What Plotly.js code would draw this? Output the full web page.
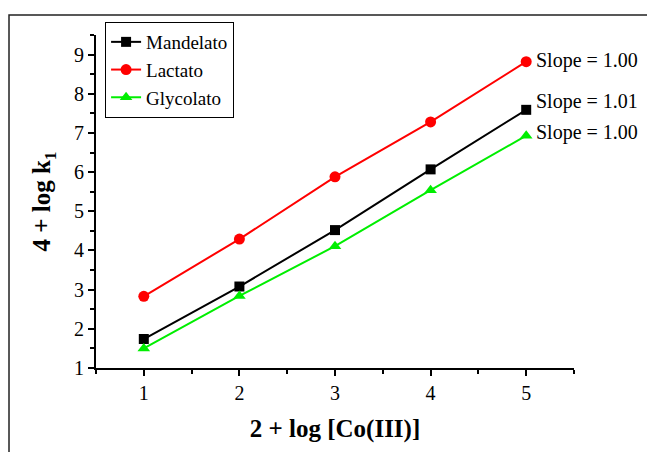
<!DOCTYPE html>
<html>
<head>
<meta charset="utf-8">
<script src="https://cdn.plot.ly/plotly-3.0.1.min.js"></script>
<style>
html,body{margin:0;padding:0;background:#fff;}
#chart{width:647px;height:452px;}
</style>
</head>
<body>
<div id="chart"></div>
<script>
var xVals = [1, 2, 3, 4, 5];
var mandelato = [1.74, 3.08, 4.52, 6.07, 7.59];
var lactato = [2.83, 4.29, 5.88, 7.28, 8.82];
var glycolato = [1.5, 2.84, 4.11, 5.54, 6.93];
var seriesNames = ['Mandelato', 'Lactato', 'Glycolato'];
var slopeLabels = ['Slope = 1.00', 'Slope = 1.01', 'Slope = 1.00'];
var slopeLabelY = [8.84, 7.8, 7.0];

var FONT = 'Liberation Serif, Times New Roman, serif';

var traces = [
  {x: xVals, y: mandelato, name: seriesNames[0], mode: 'lines+markers',
   line: {color: '#000000', width: 2}, marker: {symbol: 'square', size: 10, color: '#000000'}},
  {x: xVals, y: lactato, name: seriesNames[1], mode: 'lines+markers',
   line: {color: '#ff0000', width: 2}, marker: {symbol: 'circle', size: 11, color: '#ff0000'}},
  {x: xVals, y: glycolato, name: seriesNames[2], mode: 'lines+markers',
   line: {color: '#00ee00', width: 2}, marker: {symbol: 'triangle-up', size: 11, color: '#00ee00'}}
];

var annotations = slopeLabels.map(function(t, i){
  return {x: xVals[xVals.length-1], y: slopeLabelY[i], xref: 'x', yref: 'y', text: t,
    showarrow: false, xanchor: 'left', yanchor: 'middle', xshift: 8,
    font: {family: FONT, size: 20, color: '#000'}};
});

var layout = {
  width: 647, height: 452,
  margin: {l: 96, r: 73, t: 35, b: 84},
  paper_bgcolor: '#ffffff', plot_bgcolor: '#ffffff',
  showlegend: true,
  legend: {x: 0.019, y: 1.039, xanchor: 'left', yanchor: 'top',
    bgcolor: '#ffffff', bordercolor: '#000000', borderwidth: 1,
    font: {family: FONT, size: 19, color: '#000'}, tracegroupgap: 0, itemwidth: 30,
    entrywidth: 150, entrywidthmode: 'pixels'},
  xaxis: {
    range: [0.5, 5.5], tick0: 1, dtick: 1, showgrid: false, zeroline: false,
    showline: true, linecolor: '#000', linewidth: 2, mirror: false,
    ticks: 'outside', ticklen: 6, tickwidth: 2, tickcolor: '#000',
    minor: {dtick: 0.5, tick0: 0.5, ticks: 'outside', ticklen: 4, tickwidth: 2, tickcolor: '#000', showgrid: false},
    tickfont: {family: FONT, size: 20, color: '#000'},
    title: {text: '<b>2 + log [Co(III)]</b>', font: {family: FONT, size: 25, color: '#000'}, standoff: 16}
  },
  yaxis: {
    range: [1, 9.5], tick0: 1, dtick: 1, showgrid: false, zeroline: false,
    showline: true, linecolor: '#000', linewidth: 2, mirror: false,
    ticks: 'outside', ticklen: 6, tickwidth: 2, tickcolor: '#000',
    minor: {dtick: 0.5, tick0: 0.5, ticks: 'outside', ticklen: 4, tickwidth: 2, tickcolor: '#000', showgrid: false},
    tickfont: {family: FONT, size: 20, color: '#000'},
    title: {text: '<b>4 + log k<sub>1</sub></b>', font: {family: FONT, size: 25, color: '#000'}, standoff: 16}
  },
  annotations: annotations,
  shapes: [{type: 'rect', xref: 'paper', yref: 'paper', x0: -0.182, x1: 1.3, y0: -0.4, y1: 1.06,
    line: {color: '#222', width: 1.5}, fillcolor: 'rgba(0,0,0,0)', layer: 'below'}]
};

Plotly.newPlot('chart', traces, layout, {displayModeBar: false, staticPlot: true});
</script>
</body>
</html>
